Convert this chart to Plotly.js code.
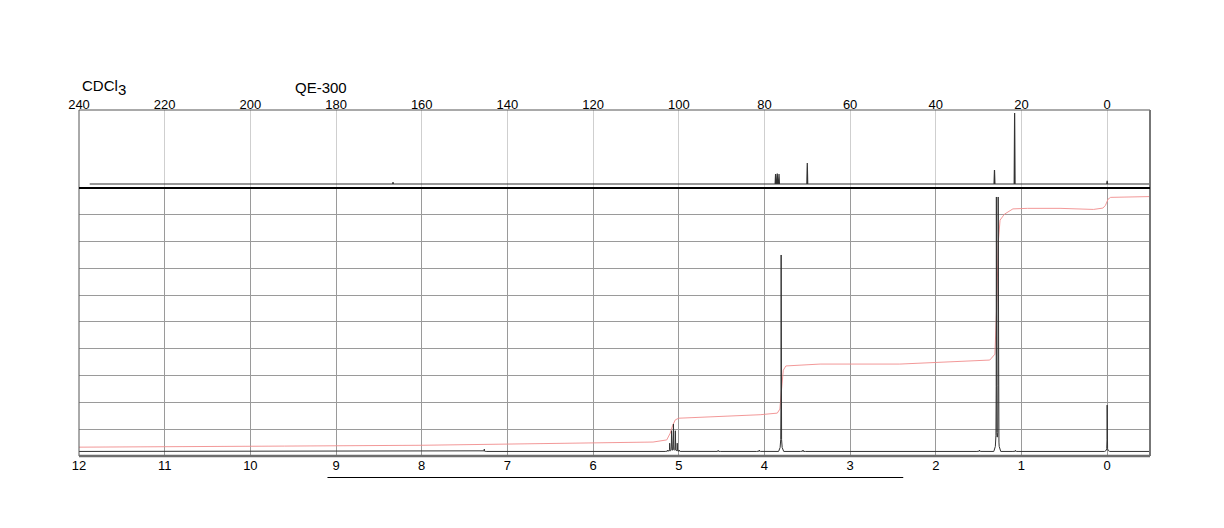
<!DOCTYPE html>
<html>
<head>
<meta charset="utf-8">
<script src="https://cdn.plot.ly/plotly-3.0.1.min.js"></script>
<style>html,body{margin:0;padding:0;background:#fff;}#chart{width:1224px;height:528px;}</style>
</head>
<body>
<div id="chart"></div>
<script>
// ---- 1H spectrum (bottom panel) ----
const H_RANGE = [12, -0.5];
const H_TICKS = [12, 11, 10, 9, 8, 7, 6, 5, 4, 3, 2, 1, 0];
const H_BASELINE = 1.7;
const H_PEAK_PPM    = [7.27, 5.128, 5.106, 5.084, 5.062, 5.040, 5.018, 4.996, 4.54, 4.06, 3.805, 3.55, 1.49, 1.293, 1.272, 1.07, 0.00];
const H_PEAK_HEIGHT = [0.9,  0.5,   3.0,   7.6,   10.1,  7.6,   3.0,   0.5,   0.4,  0.5,  73.3,  0.5,  0.5,  94.0,  94.0,  0.4,  17.3];
// integral curve
const INT_PPM = [12.0, 10.0, 9.6, 8.0, 7.0, 6.1, 5.3, 5.14, 5.10, 5.07, 5.04, 5.00, 4.75, 4.05, 3.85, 3.82, 3.80, 3.78, 3.75, 3.35, 2.42, 1.37, 1.31, 1.29, 1.27, 1.25, 1.20, 1.10, 0.93, 0.55, 0.16, 0.05, 0.02, -0.01, -0.04, -0.5];
const INT_VAL = [3.3,  3.4,  3.7, 4.0, 4.4, 4.7, 5.2, 6.0,  8.5,  11.5, 13.5, 14.1, 14.5, 15.4, 16.0, 17.5, 25.0, 32.0, 33.6, 34.3, 34.3, 35.8, 38.0, 55.0, 80.0, 88.0, 90.2, 92.2, 92.4, 92.4, 92.0, 92.5, 93.5, 95.8, 96.5, 96.8];

// ---- 13C spectrum (top panel) ----
const C_RANGE = [240, -10];
const C_TICKS = [240, 220, 200, 180, 160, 140, 120, 100, 80, 60, 40, 20, 0];
const C_START = 237.5, C_END = -10;
const C_BASELINE = 5.1;
const C_PEAK_PPM    = [166.7, 77.4, 77.0, 76.6, 70.0, 26.3, 21.6, 0.0];
const C_PEAK_HEIGHT = [2.5,   12.8, 13.3, 12.8, 27.0, 18.0, 91.0, 4.0];

// ---- texts ----
const SOLVENT_MAIN = 'CDCl';
const SOLVENT_SUB = '3';
const INSTRUMENT = 'QE-300';

// line-shape templates (offset in ppm, fraction of height)
const H_SHAPE_OFF = [-0.03, -0.012, -0.005, -0.002, 0, 0.002, 0.005, 0.012, 0.03];
const H_SHAPE_FR  = [0, 0.02, 0.06, 0.25, 1, 0.25, 0.06, 0.02, 0];
const C_SHAPE_OFF = [-0.1, 0, 0.1];
const C_SHAPE_FR  = [0, 1, 0];

function shapeAt(d, off, fr) {
  if (d <= off[0] || d >= off[off.length - 1]) return 0;
  for (let i = 0; i < off.length - 1; i++) {
    if (d >= off[i] && d <= off[i + 1]) {
      const t = (d - off[i]) / (off[i + 1] - off[i]);
      return fr[i] + t * (fr[i + 1] - fr[i]);
    }
  }
  return 0;
}
function buildSpectrum(pos, hts, base, x0, x1, off, fr) {
  let xs = [x0, x1];
  pos.forEach(p => off.forEach(o => xs.push(p + o)));
  xs = xs.filter(x => x <= Math.max(x0, x1) && x >= Math.min(x0, x1));
  xs.sort((a, b) => b - a);
  const ys = xs.map(x => {
    let y = base;
    pos.forEach((p, i) => { y += hts[i] * shapeAt(x - p, off, fr); });
    return y;
  });
  return {x: xs, y: ys};
}

const hSpec = buildSpectrum(H_PEAK_PPM, H_PEAK_HEIGHT, H_BASELINE, H_RANGE[0], H_RANGE[1], H_SHAPE_OFF, H_SHAPE_FR);
const cSpec = buildSpectrum(C_PEAK_PPM, C_PEAK_HEIGHT, C_BASELINE, C_START, C_END, C_SHAPE_OFF, C_SHAPE_FR);

const FONT = 'Liberation Sans, Arial, Helvetica, sans-serif';
const SPLIT = 0.7746;

const traces = [
  {x: INT_PPM, y: INT_VAL, xaxis: 'x', yaxis: 'y', mode: 'lines', line: {color: 'rgb(240,140,140)', width: 0.9}, hoverinfo: 'skip'},
  {x: hSpec.x, y: hSpec.y, xaxis: 'x', yaxis: 'y', mode: 'lines', line: {color: '#333', width: 1}, hoverinfo: 'skip'},
  {x: cSpec.x, y: cSpec.y, xaxis: 'x2', yaxis: 'y2', mode: 'lines', line: {color: '#333', width: 1.2}, hoverinfo: 'skip'}
];

const layout = {
  width: 1224, height: 528,
  margin: {l: 79, r: 74, t: 110, b: 72, pad: 0},
  paper_bgcolor: '#fff', plot_bgcolor: '#fff',
  showlegend: false,
  font: {family: FONT, size: 13, color: '#000'},
  xaxis: {
    domain: [0, 1], anchor: 'y', range: H_RANGE, tickvals: H_TICKS, ticktext: H_TICKS.map(String),
    ticks: '', showgrid: true, gridcolor: '#9a9a9a', gridwidth: 1, zeroline: false, showline: false,
    tickfont: {family: FONT, size: 13, color: '#000'}
  },
  yaxis: {
    domain: [0, SPLIT], anchor: 'x', range: [0, 100], tickvals: [10, 20, 30, 40, 50, 60, 70, 80, 90],
    showticklabels: false, ticks: '', showgrid: true, gridcolor: '#9a9a9a', gridwidth: 1, zeroline: false, showline: false
  },
  xaxis2: {
    domain: [0, 1], anchor: 'free', position: 0.994, side: 'top', range: C_RANGE, tickvals: C_TICKS, ticktext: C_TICKS.map(String),
    ticks: '', showgrid: true, gridcolor: '#cfcfcf', gridwidth: 1, zeroline: false, showline: false,
    tickfont: {family: FONT, size: 13, color: '#000'}
  },
  yaxis2: {
    domain: [SPLIT, 1], anchor: 'x2', range: [0, 100], showticklabels: false, ticks: '',
    showgrid: false, zeroline: false, showline: false
  },
  shapes: [
    {type: 'rect', xref: 'paper', yref: 'paper', x0: 0, x1: 1, y0: 0, y1: 1, line: {color: '#555', width: 1}},
    {type: 'line', xref: 'paper', yref: 'paper', x0: 1, x1: 1, y0: 0, y1: 1, line: {color: '#777', width: 2}},
    {type: 'line', xref: 'paper', yref: 'paper', x0: 0, x1: 1, y0: SPLIT, y1: SPLIT, line: {color: '#000', width: 2}},
    {type: 'line', xref: 'paper', yref: 'paper', x0: 0, x1: 1, y0: 0, y1: 0, line: {color: '#6e6e6e', width: 2.5}},
    {type: 'line', xref: 'x', yref: 'paper', x0: 9.1, x1: 2.38, y0: -0.0621, y1: -0.0621, line: {color: '#000', width: 1.2}}
  ],
  annotations: [
    {text: SOLVENT_MAIN, xref: 'paper', yref: 'paper', x: 0.001, y: 1.072, xanchor: 'left', yanchor: 'middle', showarrow: false, font: {family: FONT, size: 15, color: '#000'}},
    {text: SOLVENT_SUB, xref: 'paper', yref: 'paper', x: 0.0345, y: 1.059, xanchor: 'left', yanchor: 'middle', showarrow: false, font: {family: FONT, size: 15, color: '#000'}},
    {text: INSTRUMENT, xref: 'paper', yref: 'paper', x: 0.1999, y: 1.066, xanchor: 'left', yanchor: 'middle', showarrow: false, font: {family: FONT, size: 15, color: '#000'}}
  ]
};

Plotly.newPlot('chart', traces, layout, {staticPlot: true, displayModeBar: false});
</script>
</body>
</html>
